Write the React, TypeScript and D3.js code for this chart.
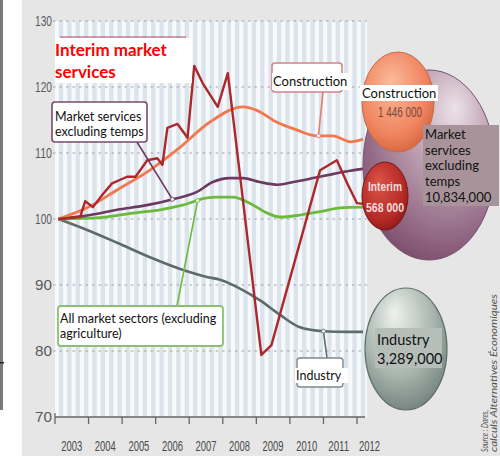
import * as d3 from "d3";

// year ticks and y ticks
const years = d3.range(2003, 2013);
const yTicks = [70, 80, 90, 100, 110, 120, 130];

// index 100 in 2003, [year, value]
const interim: [number, number][] = [
  [2003.1, 100], [2003.75, 100.3], [2003.9, 102.7], [2004.13, 101.8], [2004.4, 103.6],
  [2004.7, 105.4], [2005.15, 106.4], [2005.4, 106.4], [2005.75, 108.9], [2006.05, 109.2],
  [2006.2, 108.2], [2006.35, 113.8], [2006.65, 114.4], [2006.95, 112.3], [2007.15, 123.2],
  [2007.4, 120.6], [2007.85, 117], [2008.15, 122.1], [2009.15, 79.4], [2009.45, 80.9],
  [2010.9, 107.4], [2011.4, 108.9], [2011.7, 105.5], [2012.0, 102.4], [2012.18, 102.3],
];
const construction: [number, number][] = [
  [2003.1, 100], [2004.0, 101.8], [2004.85, 104.4], [2005.83, 107.4], [2006.64, 110.5],
  [2007.62, 114.7], [2008.6, 117], [2009.0, 116.5], [2009.6, 114.7], [2010.2, 113.5],
  [2010.8, 112.6], [2011.28, 112.6], [2011.8, 111.7], [2012.18, 112.1],
];
const servicesExTemps: [number, number][] = [
  [2003.1, 100], [2004.04, 100.6], [2004.85, 101.4], [2005.74, 102.1], [2006.52, 103],
  [2007.23, 104.1], [2007.7, 105.6], [2008.2, 106.2], [2008.6, 106.2], [2009.1, 105.6],
  [2009.65, 105.2], [2010.1, 105.6], [2010.7, 106.2], [2011.28, 106.8], [2011.8, 107.3],
  [2012.18, 107.6],
];
const allSectors: [number, number][] = [
  [2003.1, 100], [2004.34, 100.2], [2005.32, 100.9], [2006.13, 101.4], [2006.8, 102.1],
  [2007.53, 103.2], [2007.83, 103.3], [2008.3, 103.3], [2008.8, 102.4], [2009.32, 100.9],
  [2009.7, 100.3], [2010.3, 100.6], [2010.9, 101.1], [2011.5, 101.7], [2012.18, 101.8],
];
const industry: [number, number][] = [
  [2003.1, 100], [2003.83, 98.6], [2004.85, 96.4], [2005.83, 94.2], [2006.8, 92.3],
  [2007.53, 91.2], [2007.92, 90.8], [2008.5, 89.5], [2009.1, 87.7], [2009.7, 85.5],
  [2010.3, 83.6], [2011.0, 83.0], [2011.7, 82.9], [2012.18, 82.9],
];

const W = 500;
const H = 456;
const x = d3.scaleLinear().domain([2003, 2012]).range([55, 357]);
const y = d3.scaleLinear().domain([70, 130]).range([417, 21]);
const plotRight = 367;

const smooth = d3
  .line<[number, number]>()
  .x((d) => x(d[0]))
  .y((d) => y(d[1]))
  .curve(d3.curveMonotoneX);
const straight = d3
  .line<[number, number]>()
  .x((d) => x(d[0]))
  .y((d) => y(d[1]));

const lato = "Lato, 'Open Sans', sans-serif";
const narrow = "'Liberation Sans Narrow', 'Liberation Sans', sans-serif";

// point on a series at year t (linear between points)
const at = (s: [number, number][], t: number) => {
  const i = d3.bisector((d: [number, number]) => d[0]).left(s, t);
  const a = s[Math.max(0, i - 1)];
  const b = s[Math.min(s.length - 1, i)];
  const k = b[0] === a[0] ? 0 : (t - a[0]) / (b[0] - a[0]);
  return [x(t), y(a[1] + (b[1] - a[1]) * k)];
};

const Leader = ({ from, to, color }: { from: number[]; to: number[]; color: string }) => (
  <g>
    <line x1={from[0]} y1={from[1]} x2={to[0]} y2={to[1]} stroke={color} strokeWidth={1.6} />
    <circle cx={to[0]} cy={to[1]} r={2} fill="#f4f4f4" stroke={color} strokeWidth={0.8} />
  </g>
);

export default function App() {
  const quarters = d3.range(0, 37);
  const pServices = at(servicesExTemps, 2006.5);
  const pConstr = at(construction, 2010.85);
  const pAll = at(allSectors, 2007.25);
  const pInd = at(industry, 2011.0);

  return (
    <svg
      width={W}
      height={H}
      style={{ position: "absolute", left: 0, top: 0, display: "block" }}
    >
      <defs>
        <radialGradient id="gOrange" cx="0.45" cy="0.4" r="0.65" fx="0.4" fy="0.3">
          <stop offset="0" stopColor="#fbbc9c" />
          <stop offset="0.7" stopColor="#f08560" />
          <stop offset="1" stopColor="#d2643f" />
        </radialGradient>
        <radialGradient id="gPurple" cx="0.6" cy="0.3" r="0.8" fx="0.7" fy="0.2">
          <stop offset="0" stopColor="#ece2e8" />
          <stop offset="0.45" stopColor="#b596a9" />
          <stop offset="0.85" stopColor="#875a78" />
          <stop offset="1" stopColor="#6c4260" />
        </radialGradient>
        <radialGradient id="gRed" cx="0.45" cy="0.4" r="0.65" fx="0.35" fy="0.3">
          <stop offset="0" stopColor="#dc5448" />
          <stop offset="0.75" stopColor="#b42a26" />
          <stop offset="1" stopColor="#86181a" />
        </radialGradient>
        <radialGradient id="gGray" cx="0.45" cy="0.35" r="0.7" fx="0.35" fy="0.2">
          <stop offset="0" stopColor="#eef2ef" />
          <stop offset="0.6" stopColor="#aab6b0" />
          <stop offset="1" stopColor="#6f7f79" />
        </radialGradient>
      </defs>

      {/* page */}
      <rect x={0} y={0} width={W} height={H} fill="#ffffff" />
      <rect x={22} y={0} width={W - 22} height={H} fill="#e6e6e6" />
      <rect x={0} y={0} width={3} height={410} fill="#7a7a7a" />
      <rect x={0} y={362} width={4} height={1.5} fill="#222" />

      {/* plot background with quarter stripes */}
      <rect x={x(2003)} y={y(130)} width={plotRight - x(2003)} height={y(70) - y(130)} fill="#f8f9fb" />
      {quarters.map((q) => (
        <rect
          key={q}
          x={x(2003 + q / 4) + 3.8}
          y={y(130)}
          width={4.3}
          height={y(70) - y(130)}
          fill="#dbe3ed"
        />
      ))}

      {/* y grid and labels */}
      {yTicks.map((t) => (
        <g key={t}>
          {t > 70 && (
            <line
              x1={53}
              x2={plotRight}
              y1={y(t)}
              y2={y(t)}
              stroke="#9ea3aa"
              strokeWidth={1.2}
              strokeDasharray="2.5 4"
            />
          )}
          <text
            x={35}
            y={y(t) + 5}
            fontFamily={narrow}
            fontSize={15}
            fill="#5a5a5a"
            textLength={17}
            lengthAdjust="spacingAndGlyphs"
          >
            {t}
          </text>
        </g>
      ))}

      {/* x axis */}
      <line x1={x(2003)} x2={plotRight - 2} y1={y(70)} y2={y(70)} stroke="#666" strokeWidth={1.5} />
      {years.map((yr) => (
        <g key={yr}>
          <line
            x1={x(yr)}
            x2={x(yr)}
            y1={yr === 2003 ? y(70) - 4 : y(70)}
            y2={y(70) + 7}
            stroke="#666"
            strokeWidth={1.3}
          />
          <text
            x={Math.min(x(yr + 0.5), x(2012.37)) - (yr === 2011 ? 12 : 10.5)}
            y={451}
            fontFamily={narrow}
            fontSize={14}
            fill="#4a4a4a"
            textLength={21}
            lengthAdjust="spacingAndGlyphs"
          >
            {yr}
          </text>
        </g>
      ))}

      {/* series */}
      <path d={smooth(industry) ?? ""} fill="none" stroke="#5d6b6b" strokeWidth={2.6} />
      <path d={smooth(allSectors) ?? ""} fill="none" stroke="#6cba3c" strokeWidth={2.8} />
      <path d={smooth(servicesExTemps) ?? ""} fill="none" stroke="#6c3a60" strokeWidth={2.6} />
      <path d={smooth(construction) ?? ""} fill="none" stroke="#f2784e" strokeWidth={2.8} />
      <path d={straight(interim) ?? ""} fill="none" stroke="#ab282c" strokeWidth={2.4} strokeLinejoin="round" />

      {/* leaders */}
      <Leader from={[137, 142]} to={pServices} color="#6c3a60" />
      <Leader from={[323, 92]} to={pConstr} color="#e08070" />
      <Leader from={[177, 306]} to={pAll} color="#6cba3c" />
      <Leader from={[327, 358]} to={pInd} color="#5d6b6b" />

      {/* title */}
      <line x1={60} x2={186} y1={37} y2={37} stroke="#b04858" strokeWidth={1} />
      <rect x={55} y={38} width={137} height={45} fill="#ffffff" />
      <text fontFamily={lato} fontWeight={700} fontSize={17} fill="#ff0000">
        <tspan x={55} y={56}>Interim market</tspan>
        <tspan x={55} y={78}>services</tspan>
      </text>

      {/* annotation boxes */}
      <rect x={52} y={102} width={95} height={40} rx={3} fill="#fff" stroke="#7a4a6c" strokeWidth={1.6} />
      <text fontFamily={lato} fontSize={12.5} fill="#111">
        <tspan x={55} y={121}>Market services</tspan>
        <tspan x={55} y={136}>excluding temps</tspan>
      </text>

      <rect x={272} y={63} width={70} height={29} rx={3} fill="#fff" stroke="#d88088" strokeWidth={1.6} />
      <rect x={272} y={73} width={78} height={17} fill="#fff" />
      <text x={273} y={86} fontFamily={lato} fontSize={13} fill="#111">
        Construction
      </text>

      <rect x={58} y={306} width={165} height={40} rx={3} fill="#fff" stroke="#8cc070" strokeWidth={1.8} />
      <text fontFamily={lato} fontSize={12.5} fill="#111">
        <tspan x={60} y={323}>All market sectors (excluding</tspan>
        <tspan x={60} y={338}>agriculture)</tspan>
      </text>

      <rect x={297} y={358} width={46} height={29} rx={3} fill="#fff" stroke="#7c8a8a" strokeWidth={1.4} />
      <rect x={295} y={368} width={53} height={15} fill="#fff" />
      <text x={296} y={380} fontFamily={lato} fontSize={12.5} fill="#111">
        Industry
      </text>

      {/* bubbles */}
      <ellipse cx={429} cy={165} rx={66} ry={95} fill="url(#gPurple)" stroke="#7a5070" strokeWidth={1} />
      <ellipse cx={398} cy={102} rx={36} ry={50} fill="url(#gOrange)" stroke="#c86a48" strokeWidth={1} />
      <ellipse cx={385} cy={196} rx={23} ry={34} fill="url(#gRed)" stroke="#7a1818" strokeWidth={1} />
      <ellipse cx={406} cy={349} rx={41} ry={61} fill="url(#gGray)" stroke="#5f6f6a" strokeWidth={1.2} />

      <text x={378} y={117} fontFamily={narrow} fontSize={14} fill="#7a4838" textLength={44} lengthAdjust="spacingAndGlyphs">
        1 446 000
      </text>
      <g fontFamily={narrow} fontWeight={700} fontSize={13} fill="#f2dcdc">
        <text x={368} y={191} textLength={34} lengthAdjust="spacingAndGlyphs">
          Interim
        </text>
        <text x={366} y={212} textLength={38} lengthAdjust="spacingAndGlyphs">
          568 000
        </text>
      </g>

      <rect x={360} y={85} width={78} height={16} fill="#fff" />
      <text x={362} y={98} fontFamily={lato} fontSize={13} fill="#111">
        Construction
      </text>

      <rect x={423} y={125} width={76} height={81} fill="#a8939b" />
      <text fontFamily={lato} fontSize={13} fill="#111">
        <tspan x={425} y={139}>Market</tspan>
        <tspan x={425} y={155}>services</tspan>
        <tspan x={425} y={170}>excluding</tspan>
        <tspan x={425} y={186}>temps</tspan>
        <tspan x={425} y={202}>10,834,000</tspan>
      </text>

      <rect x={375} y={328} width={67} height={40} fill="#b5beb9" />
      <text fontFamily={lato} fontSize={14.5} fill="#111">
        <tspan x={377} y={345}>Industry</tspan>
        <tspan x={377} y={364}>3,289,000</tspan>
      </text>

      {/* source */}
      <g fontFamily={lato} fontStyle="italic" fontSize={9} fill="#555">
        <text transform="translate(488,452) rotate(-90)" textLength={42} lengthAdjust="spacingAndGlyphs">
          Source : Dares,
        </text>
        <text transform="translate(497,452) rotate(-90)" textLength={158} lengthAdjust="spacingAndGlyphs">
          calculs Alternatives Économiques
        </text>
      </g>
    </svg>
  );
}
